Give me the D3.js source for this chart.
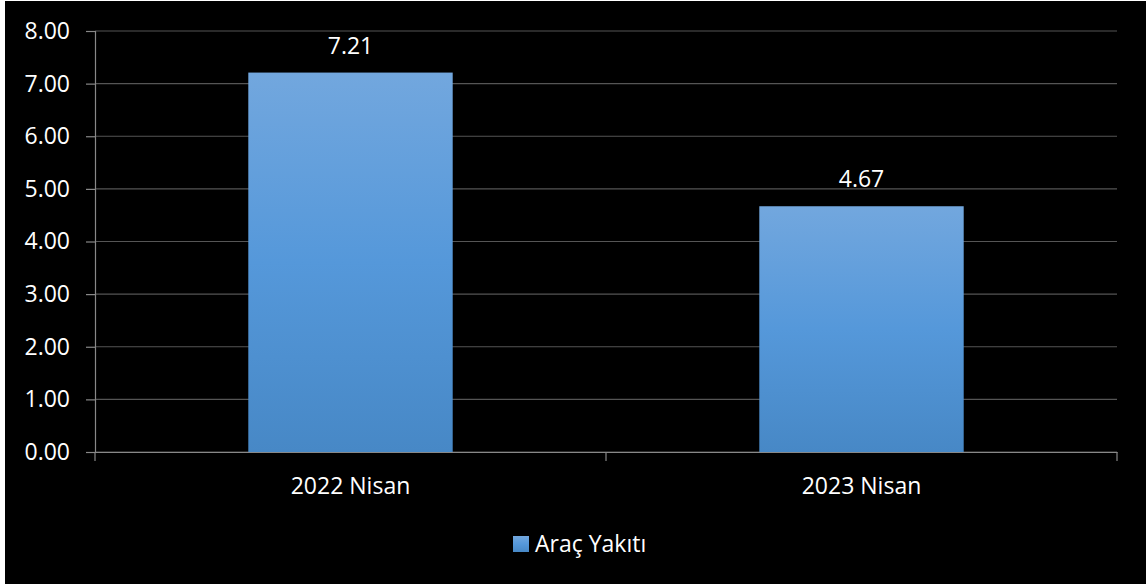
<!DOCTYPE html>
<html>
<head>
  <meta charset="utf-8">
  <title>Araç Yakıtı</title>
  <script src="https://d3js.org/d3.v7.min.js"></script>
  <style>
    body { margin: 0; background: #fff; }
    text { font-family: "Open Sans", sans-serif; fill: #fff; }
  </style>
</head>
<body>
  <svg width="1146" height="584"></svg>
  <script>
    // Chart data
    const categories = ["2022 Nisan", "2023 Nisan"];
    const values = [7.21, 4.67];
    const seriesName = "Araç Yakıtı";
    const yTicks = [0, 1, 2, 3, 4, 5, 6, 7, 8];

    const svg = d3.select("svg");
    const W = 1146, H = 584;
    const margin = { left: 95, right: 29, top: 31, bottom: 132 };

    // black chart background (thin white edge on left/top like the source image)
    svg.append("rect").attr("x", 5).attr("y", 1).attr("width", W - 5).attr("height", H - 1).attr("fill", "#000");

    const x = d3.scaleBand().domain(categories).range([margin.left, W - margin.right]);
    const y = d3.scaleLinear().domain([0, 8]).range([H - margin.bottom, margin.top]);

    // gradient for the bars
    const grad = svg.append("defs").append("linearGradient")
      .attr("id", "barGrad").attr("x1", 0).attr("y1", 0).attr("x2", 0).attr("y2", 1);
    grad.append("stop").attr("offset", "0%").attr("stop-color", "#72a7de");
    grad.append("stop").attr("offset", "50%").attr("stop-color", "#5598da");
    grad.append("stop").attr("offset", "100%").attr("stop-color", "#4788c6");

    // gridlines
    svg.append("g").selectAll("line").data(yTicks).enter().append("line")
      .attr("x1", margin.left).attr("x2", W - margin.right)
      .attr("y1", d => y(d)).attr("y2", d => y(d))
      .attr("stroke", "#555").attr("stroke-width", 1.2);

    // y axis
    const yAxis = svg.append("g")
      .attr("transform", `translate(${margin.left},0)`)
      .call(d3.axisLeft(y).tickValues(yTicks).tickFormat(d3.format(".2f")).tickSize(9).tickPadding(16));
    yAxis.select(".domain").attr("stroke", "#888").attr("stroke-width", 1.2);
    yAxis.selectAll(".tick line").attr("stroke", "#888").attr("stroke-width", 1.2);
    yAxis.selectAll("text").attr("font-size", 23).attr("font-family", "Open Sans, sans-serif").attr("fill", "#fff");

    // bars
    const barW = x.bandwidth() * 0.4;
    svg.append("g").selectAll("rect").data(values).enter().append("rect")
      .attr("x", (d, i) => x(categories[i]) + (x.bandwidth() - barW) / 2)
      .attr("y", d => y(d))
      .attr("width", barW)
      .attr("height", d => y(0) - y(d))
      .attr("fill", "url(#barGrad)");

    // x axis
    const xAxis = svg.append("g")
      .attr("transform", `translate(0,${y(0)})`)
      .call(d3.axisBottom(x).tickSize(0).tickPadding(26));
    xAxis.select(".domain").attr("stroke", "#888").attr("stroke-width", 1.2);
    xAxis.selectAll("text").attr("font-size", 23).attr("font-family", "Open Sans, sans-serif").attr("fill", "#fff");
    // category boundary ticks
    const bounds = [margin.left, x(categories[1]), W - margin.right];
    svg.append("g").selectAll("line").data(bounds).enter().append("line")
      .attr("x1", d => d).attr("x2", d => d)
      .attr("y1", y(0)).attr("y2", y(0) + 9)
      .attr("stroke", "#888").attr("stroke-width", 1.2);

    // data labels
    svg.append("g").selectAll("text").data(values).enter().append("text")
      .attr("x", (d, i) => x(categories[i]) + x.bandwidth() / 2)
      .attr("y", d => y(d) - 19)
      .attr("text-anchor", "middle")
      .attr("font-size", 23)
      .text(d => d.toFixed(2));

    // legend
    const leg = svg.append("g").attr("transform", "translate(513,536)");
    leg.append("rect").attr("width", 16).attr("height", 16).attr("fill", "url(#barGrad)");
    leg.append("text").attr("x", 22).attr("y", 16).attr("font-size", 23).text(seriesName);
  </script>
</body>
</html>
